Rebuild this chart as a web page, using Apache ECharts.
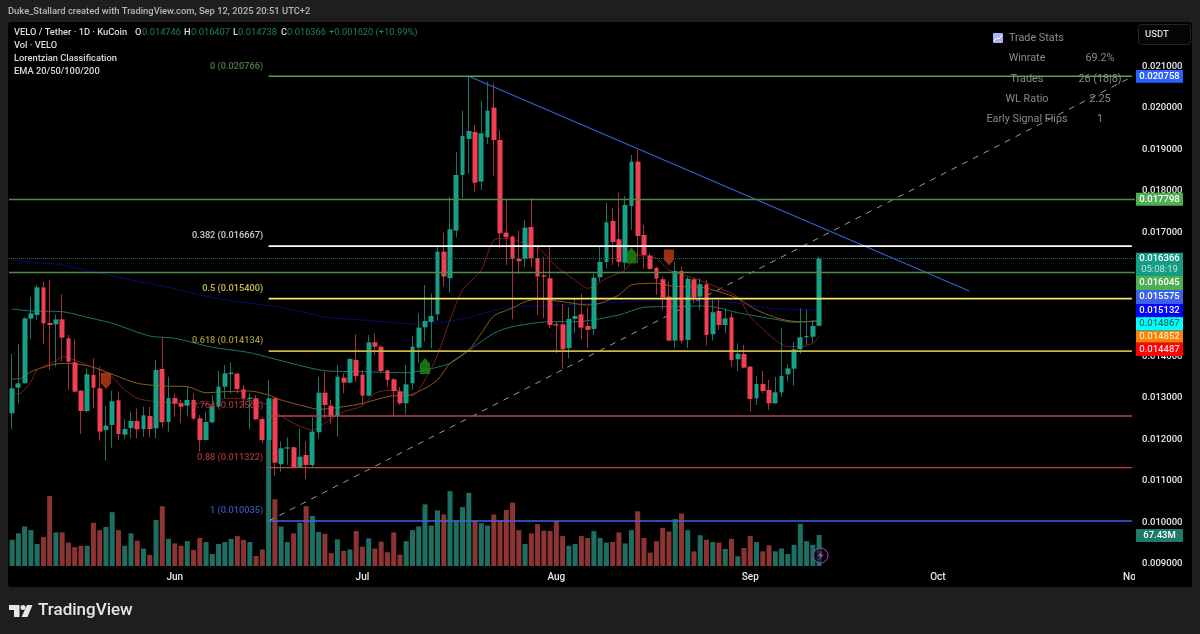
<!DOCTYPE html>
<html>
<head>
<meta charset="utf-8">
<title>VELO / Tether</title>
<script src="https://cdn.jsdelivr.net/npm/echarts@6/dist/echarts.min.js"></script>
<style>
  html, body { margin: 0; padding: 0; background: #1e1e1e; }
  #chart { width: 1200px; height: 634px; }
</style>
</head>
<body>
<div id="chart"></div>
<script>
// daily candles, first bar is 6 May 2025
var opens = [
  0.012633,0.013252,0.013357,0.014916,0.015005,0.015672,0.014812,0.014780,0.014900,0.014442,
  0.013863,0.013180,0.012689,0.013558,0.013236,0.012231,0.012352,0.012947,0.012118,0.012279,
  0.012448,0.012255,0.012569,0.012271,0.013702,0.012424,0.013003,0.012874,0.012818,0.012955,
  0.012512,0.011990,0.012416,0.012794,0.013276,0.013582,0.013590,0.013212,0.012979,0.012995,
  0.012496,0.011990,0.012995,0.011403,0.011781,0.011813,0.011331,0.011628,0.011387,0.012175,
  0.013131,0.012818,0.012569,0.013493,0.013373,0.013919,0.013566,0.013059,0.014346,0.014241,
  0.013670,0.013453,0.013164,0.012874,0.013357,0.014217,0.014707,0.014836,0.015021,0.016534,
  0.015891,0.017041,0.018383,0.019252,0.019421,0.018223,0.019292,0.020007,0.019228,0.016993,
  0.016896,0.016357,0.016357,0.017129,0.016381,0.015963,0.015891,0.014781,0.014781,0.014203,
  0.014910,0.015023,0.014741,0.014669,0.015915,0.016285,0.017274,0.016832,0.016269,0.017636,
  0.018705,0.016936,0.016438,0.016140,0.015867,0.015449,0.014388,0.016068,0.014404,0.015867,
  0.015449,0.015746,0.014540,0.015101,0.014764,0.014949,0.013935,0.014064,0.013759,0.012995,
  0.013340,0.013196,0.012874,0.013139,0.013574,0.013710,0.014177,0.014466,0.014482,0.014746
];
var closes = [
  0.013236,0.013357,0.014924,0.015045,0.015672,0.014804,0.014764,0.014900,0.014458,0.013879,
  0.013156,0.012689,0.013574,0.013252,0.012191,0.012336,0.012922,0.012134,0.012255,0.012448,
  0.012247,0.012585,0.012255,0.013678,0.012416,0.013003,0.012866,0.012794,0.012955,0.012504,
  0.011990,0.012424,0.012794,0.013276,0.013598,0.013614,0.013220,0.012995,0.013011,0.012488,
  0.011990,0.012995,0.011443,0.011789,0.011813,0.011331,0.011588,0.011387,0.012191,0.013131,
  0.012834,0.012553,0.013517,0.013373,0.013944,0.013534,0.013059,0.014346,0.014241,0.013654,
  0.013437,0.013172,0.012874,0.013332,0.014241,0.014699,0.014860,0.014981,0.016532,0.015931,
  0.017073,0.018383,0.019324,0.019445,0.018198,0.019388,0.019935,0.019228,0.016976,0.016880,
  0.016357,0.016301,0.017113,0.016373,0.015931,0.015931,0.014765,0.014749,0.014178,0.014910,
  0.014982,0.014701,0.014645,0.015907,0.016285,0.017242,0.016767,0.016285,0.017660,0.018705,
  0.016912,0.016454,0.016116,0.015883,0.015425,0.014388,0.016068,0.014388,0.015883,0.015425,
  0.015746,0.014524,0.015071,0.014764,0.014924,0.013919,0.014072,0.013735,0.012979,0.013340,
  0.013172,0.012874,0.013139,0.013534,0.013718,0.014177,0.014466,0.014498,0.014739,0.016366
];
var lows = [
  0.012247,0.012874,0.013357,0.014418,0.014884,0.014305,0.013678,0.013759,0.013879,0.013196,
  0.013140,0.012134,0.012649,0.012754,0.011974,0.011491,0.011805,0.011990,0.012006,0.012030,
  0.012030,0.012070,0.012054,0.012030,0.012295,0.012191,0.012553,0.012392,0.012553,0.012472,
  0.011708,0.011975,0.012392,0.012754,0.012995,0.013115,0.013115,0.012794,0.012247,0.012472,
  0.011909,0.010035,0.011121,0.011226,0.011387,0.011320,0.011320,0.011041,0.011331,0.012030,
  0.012512,0.012376,0.012070,0.013115,0.013357,0.013397,0.012834,0.013035,0.014040,0.013598,
  0.013276,0.012553,0.012834,0.012609,0.013196,0.013855,0.014362,0.014201,0.014868,0.015690,
  0.015545,0.016880,0.017821,0.018424,0.017981,0.018022,0.019131,0.018359,0.016615,0.016213,
  0.014902,0.015996,0.016172,0.016172,0.015007,0.014926,0.014685,0.014082,0.013704,0.013961,
  0.014564,0.014420,0.014203,0.014524,0.015811,0.016132,0.016213,0.016172,0.016108,0.017057,
  0.016253,0.016132,0.016092,0.015489,0.015127,0.014370,0.014203,0.014323,0.014203,0.015288,
  0.015127,0.014267,0.014388,0.014643,0.014563,0.013759,0.013654,0.013720,0.012673,0.012834,
  0.013115,0.012713,0.012860,0.013035,0.013397,0.013300,0.014064,0.014281,0.014337,0.014738
];
var highs = [
  0.014064,0.014297,0.014948,0.015447,0.015730,0.015809,0.015849,0.015005,0.015503,0.014522,
  0.014418,0.013196,0.013718,0.013960,0.013759,0.012810,0.013180,0.013156,0.012488,0.012673,
  0.012754,0.012794,0.012794,0.013919,0.014482,0.013517,0.013115,0.012955,0.013292,0.013115,
  0.012593,0.012673,0.013075,0.013662,0.013799,0.013863,0.013614,0.013316,0.013115,0.013075,
  0.012553,0.013437,0.013020,0.011950,0.012054,0.011829,0.012271,0.011950,0.012537,0.013517,
  0.013638,0.012955,0.013799,0.013598,0.013960,0.014538,0.013678,0.014522,0.014562,0.014281,
  0.013678,0.013477,0.013276,0.013799,0.014498,0.015045,0.015728,0.015527,0.016693,0.016993,
  0.017861,0.018930,0.019935,0.020766,0.019589,0.020152,0.020635,0.020594,0.019469,0.017796,
  0.016920,0.017041,0.017298,0.017821,0.016695,0.016414,0.016671,0.014846,0.015264,0.015192,
  0.015409,0.015513,0.015192,0.016012,0.016671,0.017716,0.017579,0.017965,0.017877,0.018866,
  0.018986,0.017177,0.016494,0.016172,0.015931,0.015811,0.016293,0.016172,0.015931,0.015891,
  0.015891,0.015851,0.015368,0.015367,0.015166,0.015061,0.014321,0.014281,0.013775,0.013534,
  0.013654,0.013437,0.013517,0.014699,0.013815,0.014362,0.015166,0.015141,0.014884,0.016407
];
// volume, millions
var volumes = [
  57,71,86,78,48,63,152,73,73,51,
  41,44,44,94,78,85,117,78,44,71,
  55,38,24,100,130,59,49,44,54,35,
  61,52,26,48,52,59,65,57,52,22,
  36,274,145,86,52,71,94,130,109,74,
  70,28,58,33,36,76,42,60,38,53,
  30,73,25,54,78,86,134,88,121,112,
  163,99,128,159,99,93,88,112,99,122,
  138,78,48,71,91,77,76,98,65,44,
  48,65,61,76,61,51,52,73,49,78,
  119,61,29,54,83,75,102,114,78,32,
  67,57,52,51,37,59,21,39,65,52,
  32,45,32,38,26,46,92,54,46,67.43
];
// EMAs read at visible knots: [bar index, price]
var ema20 = [[0,0.013123],[1,0.013099],[3,0.013396],[4,0.013678],[7,0.013903],[8,0.013999],[10,0.013919],[12,0.013799],[14,0.013678],[16,0.013516],[18,0.013196],[20,0.012995],[23,0.012913],[27,0.012875],[30,0.012875],[32,0.012834],[34,0.012995],[36,0.012995],[39,0.012913],[41,0.012834],[42,0.012672],[45,0.012392],[48,0.012231],[50,0.012400],[53,0.012672],[56,0.012810],[58,0.013116],[61,0.013196],[64,0.013058],[66,0.013437],[68,0.014040],[70,0.014884],[72,0.015608],[75,0.016091],[77,0.016814],[79,0.016855],[82,0.016735],[84,0.016653],[87,0.016170],[90,0.015849],[92,0.015649],[95,0.015890],[98,0.016091],[100,0.016452],[103,0.016373],[105,0.016091],[109,0.015897],[113,0.015656],[116,0.015439],[118,0.014964],[122,0.014402],[124,0.014240],[126,0.014240],[128,0.014322],[129,0.014487]];
var ema50 = [[0,0.013461],[1,0.013461],[3,0.013637],[5,0.013743],[7,0.013823],[9,0.013840],[12,0.013782],[14,0.013695],[17,0.013516],[20,0.013357],[24,0.013292],[28,0.013275],[31,0.013130],[34,0.013155],[38,0.013171],[41,0.013075],[43,0.012954],[47,0.012793],[49,0.012730],[53,0.012793],[56,0.012875],[59,0.012995],[61,0.013058],[63,0.013058],[66,0.013237],[68,0.013437],[70,0.013840],[73,0.014161],[75,0.014563],[77,0.014981],[80,0.015174],[82,0.015326],[84,0.015384],[88,0.015326],[92,0.015246],[94,0.015287],[97,0.015487],[99,0.015729],[103,0.015770],[106,0.015692],[109,0.015688],[111,0.015649],[113,0.015567],[116,0.015408],[119,0.015126],[123,0.014901],[126,0.014843],[129,0.014852]];
var ema100 = [[0,0.015150],[3,0.015102],[8,0.015085],[12,0.014950],[16,0.014805],[22,0.014498],[26,0.014443],[32,0.014226],[38,0.014096],[43,0.013903],[50,0.013661],[56,0.013637],[63,0.013613],[66,0.013678],[70,0.013840],[73,0.014149],[77,0.014563],[80,0.014723],[86,0.014843],[90,0.014843],[97,0.015005],[101,0.015191],[106,0.015210],[111,0.015222],[113,0.015174],[116,0.015060],[122,0.014901],[125,0.014829],[129,0.014867]];
var ema200 = [[0,0.016325],[3,0.016284],[8,0.016211],[13,0.016050],[19,0.015849],[25,0.015673],[30,0.015487],[35,0.015350],[43,0.015191],[50,0.014957],[56,0.014884],[61,0.014819],[65,0.014788],[68,0.014812],[72,0.014908],[77,0.015113],[80,0.015198],[84,0.015222],[90,0.015263],[94,0.015287],[98,0.015326],[102,0.015343],[106,0.015343],[113,0.015326],[116,0.015287],[121,0.015167],[124,0.015144],[129,0.015132]];
// fib retracement levels
var fibLevels = [0.020766, 0.016667, 0.015400, 0.014134, 0.012568, 0.011322, 0.010035];
var fibRatios = ["0", "0.382", "0.5", "0.618", "0.764", "0.88", "1"];
var fibColors = ["#5f9e55", "#ffffff", "#f5e663", "#c9b93f", "#b8404a", "#c8404a", "#3f66e0"];
// plain horizontals across the whole chart
var levelPrices = [0.017798, 0.016045];
var lastPrice = 0.016366;
// [bar index, price] ends of the two trend lines
var blueTrend = [[73, 0.020766], [153, 0.015584]];
var dashedTrend = [[41, 0.010035], [179, 0.020750]];
// Lorentzian signals
var sellSignals = [[15, 0.013413], [105, 0.016392]];
var buySignals = [[66, 0.013775], [99, 0.016440]];
var priceTicks = { min: 0.009, max: 0.022, step: 0.001 };
var volumeAxisMax = 1183;
var monthNames = ["Jan","Feb","Mar","Apr","May","Jun","Jul","Aug","Sep","Oct","Nov","Dec"];
var statNames = ["Winrate", "Trades", "WL Ratio", "Early Signal Flips"];
var statValues = ["69.2%", "26 (18|8)", "2.25", "1"];
var tagLabels = ["0.020758","0.017798","0.016366","0.016045","0.015575","0.015132","0.014867","0.014852","0.014487"];

var categories = [];
for (var d = 0; d < 180; d++) {
  var dt = new Date(Date.UTC(2025, 4, 6 + d));
  categories.push(dt.toISOString().slice(0, 10));
}
function monthOf(value) {
  return value.slice(8) === "01" ? monthNames[parseInt(value.slice(5, 7), 10) - 1] : "";
}

var UP = "#17a086", DOWN = "#f23f52";
var UP_WICK = "#1b7466", DOWN_WICK = "#a5303e";
var FONT = "Roboto";

var wickData = opens.map(function (o, i) { return [o, closes[i], lows[i], highs[i]]; });
var bodyData = opens.map(function (o, i) {
  return [o, closes[i], Math.min(o, closes[i]), Math.max(o, closes[i])];
});
var volumeData = volumes.map(function (v, i) {
  return { value: v, itemStyle: { color: closes[i] >= opens[i] ? "#1f6e62" : "#8c3333" } };
});

function emaSeries(name, data, color) {
  return {
    name: name, type: "line", data: data, smooth: 0.25, symbol: "none", z: 2,
    lineStyle: { color: color, width: 1 }, silent: true
  };
}
function straight(data, color, width, type, z) {
  return {
    type: "line", data: data, symbol: "none", z: z, silent: true,
    lineStyle: { color: color, width: width, type: type || "solid" }
  };
}

var blueLine = straight(blueTrend, "#3560d8", 1.2, "solid", 4);
blueLine.markLine = {
  silent: true, symbol: "none", animation: false, precision: 6, label: { show: false },
  data: levelPrices.map(function (v) {
    return { yAxis: v, lineStyle: { color: "#4f8a49", width: 1.4, type: "solid" } };
  }).concat([{ yAxis: lastPrice, lineStyle: { color: "#1c6b5e", width: 1, type: "dotted" } }])
};

var series = [
  { name: "Vol", type: "bar", xAxisIndex: 1, yAxisIndex: 1, data: volumeData, barWidth: 5, z: 1, silent: true },
  straight(dashedTrend, "#9b9b9b", 1, [6, 6], 2),
  emaSeries("EMA200", ema200, "#0a0a70"),
  emaSeries("EMA100", ema100, "#17776f"),
  emaSeries("EMA50", ema50, "#8d5c1e"),
  emaSeries("EMA20", ema20, "#821c1c"),
  {
    name: "wicks", type: "candlestick", data: wickData, barWidth: 1, z: 3, silent: true,
    itemStyle: { color: UP_WICK, color0: DOWN_WICK, borderColor: UP_WICK, borderColor0: DOWN_WICK, borderWidth: 1 }
  },
  {
    name: "VELO", type: "candlestick", data: bodyData, barWidth: 5.3, z: 3, silent: true,
    itemStyle: { color: UP, color0: DOWN, borderColor: UP, borderColor0: DOWN, borderWidth: 0 }
  },
  {
    name: "sell", type: "scatter", data: sellSignals, z: 5, silent: true,
    symbol: "path://M0 0H10V9L5 14L0 9Z", symbolSize: [10, 16], itemStyle: { color: "#c23c18" }
  },
  {
    name: "buy", type: "scatter", data: buySignals, z: 5, silent: true,
    symbol: "path://M5 0L10 5V14H0V5Z", symbolSize: [10, 16], itemStyle: { color: "#1c8f12" }
  },
  blueLine,
  {
    name: "fibLabels", type: "scatter", symbolSize: 1, z: 6, silent: true,
    itemStyle: { color: "transparent" },
    data: fibLevels.map(function (v, i) {
      return {
        value: [41, v],
        label: {
          show: true, position: "left", distance: 5, offset: [0, -10],
          formatter: fibRatios[i] + " (" + v.toFixed(6) + ")",
          color: fibColors[i], fontFamily: FONT, fontSize: 9.2, fontWeight: 500
        }
      };
    })
  }
];
fibLevels.forEach(function (v, i) {
  series.push(straight([[41, v], [179, v]], fibColors[i], i >= 1 && i <= 3 ? 1.7 : 1.4, "solid", 4));
});

// non-data furniture, pixels
function txt(text, x, y, fill, size, align, weight) {
  return {
    type: "text", z: 20,
    style: {
      text: text, x: x, y: y, fill: fill, textAlign: align || "left", textVerticalAlign: "middle",
      font: (weight || "normal") + " " + size + "px " + FONT
    }
  };
}
var tagTops = [70, 192.7, 252.7, 276, 290, 304, 317.3, 330.7, 342.7];
var tagHeights = [12.7, 13, 23.3, 14, 14, 13.3, 13.4, 12, 13.3];
var tagFills = ["#2962ff", "#4caf50", "#149c85", "#4caf50", "#3a60ec", "#0000ff", "#00ffff", "#ff8000", "#ff0000"];
var tagText = ["#ffffff", "#ffffff", "#ffffff", "#ffffff", "#ffffff", "#ffffff", "#116b66", "#ffe3c2", "#ffdcdc"];

var graphics = [
  { type: "rect", z: -1, shape: { x: 8, y: 22, width: 1184, height: 565, r: 3 }, style: { fill: "#000000" } },
  // keeps the cut month label from running under the price scale
  { type: "rect", z: 15, shape: { x: 1135, y: 567, width: 57, height: 20 }, style: { fill: "#000000" } },
  txt("Duke_Stallard created with TradingView.com, Sep 12, 2025 20:51 UTC+2", 8, 12, "#b4b7bd", 9.4, "left", "500"),
  txt("VELO / Tether · 1D · KuCoin", 14, 33, "#d9dbe0", 9.3, "left", "500"),
  txt("O", 135, 33, "#d9dbe0", 9.3, "left", "500"),
  txt("0.014746", 142, 33, "#1c7f6e", 9.3),
  txt("H", 184, 33, "#d9dbe0", 9.3, "left", "500"),
  txt("0.016407", 191, 33, "#1c7f6e", 9.3),
  txt("L", 233, 33, "#d9dbe0", 9.3, "left", "500"),
  txt("0.014738", 238, 33, "#1c7f6e", 9.3),
  txt("C", 281, 33, "#d9dbe0", 9.3, "left", "500"),
  txt("0.016366", 287, 33, "#1c7f6e", 9.3),
  txt("+0.001620 (+10.99%)", 329, 33, "#1c7f6e", 9.3),
  txt("Vol · VELO", 14, 46, "#d9dbe0", 9.3, "left", "500"),
  txt("Lorentzian Classification", 14, 59, "#d9dbe0", 9.3, "left", "500"),
  txt("EMA 20/50/100/200", 14, 72, "#d9dbe0", 9.3, "left", "500"),
  // trade stats panel
  { type: "rect", z: 20, shape: { x: 993, y: 33, width: 10, height: 10, r: 1 }, style: { fill: "#aab4f0" } },
  { type: "polyline", z: 21, shape: { points: [[994, 41], [997, 38], [999, 39], [1002, 35]] }, style: { stroke: "#ffffff", fill: null, lineWidth: 1 } },
  txt("Trade Stats", 1009, 38, "#8f8f8f", 10.8),
  // USDT box
  { type: "rect", z: 20, shape: { x: 1138.5, y: 24.5, width: 52, height: 20, r: 3 }, style: { fill: "#050505", stroke: "#242424", lineWidth: 1 } },
  txt("USDT", 1145, 34.5, "#d9dbe0", 9.5, "left", "500"),
  // volume tag
  { type: "rect", z: 20, shape: { x: 1136, y: 529, width: 47, height: 13 }, style: { fill: "#1f7a6c" } },
  txt("67.43M", 1159.5, 536, "#ffffff", 9.5, "center", "500"),
  txt("05:08:19", 1159.5, 270, "#bfe6de", 9.5, "center"),
  // alert badge
  { type: "circle", z: 20, shape: { cx: 820.5, cy: 555.5, r: 7.5 }, style: { fill: "rgba(0,0,0,0.55)", stroke: "#a845c8", lineWidth: 1 } },
  { type: "polygon", z: 21, shape: { points: [[822, 550.5], [818, 556], [820.5, 556], [819, 560.5], [823.5, 554.5], [821, 554.5]] }, style: { fill: "#a845c8" } },
  // TradingView logo
  { type: "polygon", z: 20, shape: { points: [[9, 605], [19.5, 605], [19.5, 617], [14, 617], [14, 610], [9, 610]] }, style: { fill: "#e6e6e6" } },
  { type: "circle", z: 20, shape: { cx: 23, cy: 607.5, r: 2.5 }, style: { fill: "#e6e6e6" } },
  { type: "polygon", z: 20, shape: { points: [[27, 605], [32.5, 605], [27.5, 617], [21.5, 617]] }, style: { fill: "#e6e6e6" } },
  txt("TradingView", 38, 611, "#e6e6e6", 17, "left", "500")
];
statNames.forEach(function (name, i) {
  var rowY = [58.5, 79, 99, 119.7][i];
  graphics.push(txt(name, 1027, rowY, "#8a8a8a", 10.8, "center"));
  graphics.push(txt(statValues[i], 1100, rowY, "#8a8a8a", 10.8, "center"));
});
tagLabels.forEach(function (label, i) {
  graphics.push({
    type: "rect", z: 18,
    shape: { x: 1136, y: tagTops[i], width: 47, height: tagHeights[i] },
    style: { fill: tagFills[i] }
  });
  graphics.push(txt(label, 1159.5, tagTops[i] + (i === 2 ? 6.3 : tagHeights[i] / 2), tagText[i], 9.5, "center", "500"));
});

var chart = echarts.init(document.getElementById("chart"), null, { renderer: "canvas" });
chart.setOption({
  animation: false,
  backgroundColor: "#1e1e1e",
  tooltip: { show: false },
  grid: [
    { left: 9, width: 1126, top: 25.05, height: 538.85 },
    { left: 9, width: 1126, top: 22, height: 544 }
  ],
  xAxis: [
    { type: "category", data: categories, gridIndex: 0, show: false, boundaryGap: true },
    {
      type: "category", data: categories, gridIndex: 1, boundaryGap: true,
      axisLine: { show: false }, axisTick: { show: false }, splitLine: { show: false },
      axisLabel: {
        show: true, color: "#e4e6ea", fontFamily: FONT, fontSize: 10, fontWeight: 500, margin: 6, hideOverlap: false,
        interval: function (index, value) { return monthOf(value) !== ""; },
        formatter: function (value) { return monthOf(value); }
      }
    }
  ],
  yAxis: [
    {
      type: "value", position: "right", gridIndex: 0, scale: false,
      min: priceTicks.min, max: priceTicks.max, interval: priceTicks.step,
      axisLine: { show: false }, axisTick: { show: false }, splitLine: { show: false },
      axisLabel: {
        color: "#e4e6ea", fontFamily: FONT, fontSize: 9.5, fontWeight: 500, margin: 7, showMaxLabel: false,
        formatter: function (v) { return v.toFixed(6); }
      }
    },
    { type: "value", gridIndex: 1, min: 0, max: volumeAxisMax, show: false, splitLine: { show: false } }
  ],
  series: series,
  graphic: { elements: graphics }
});
</script>
</body>
</html>
